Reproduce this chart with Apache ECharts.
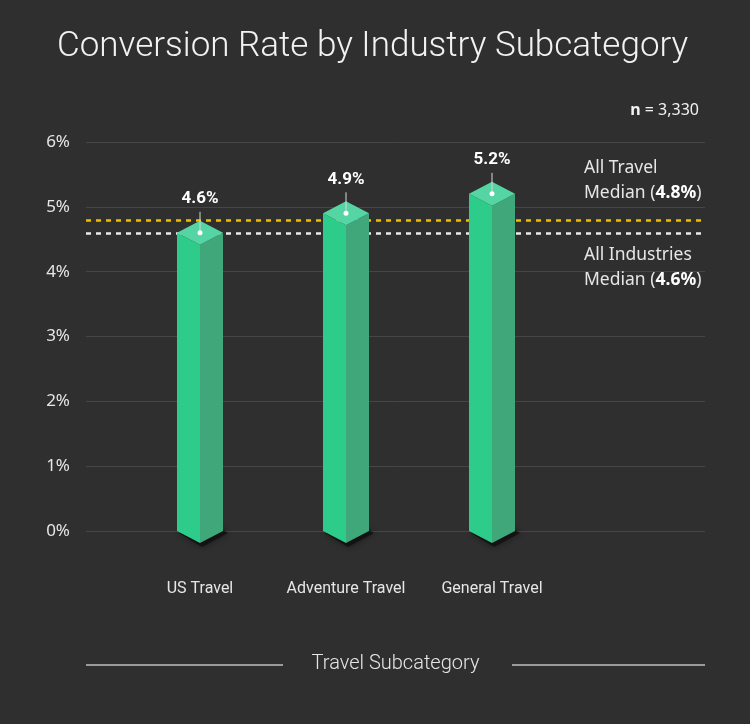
<!DOCTYPE html>
<html>
<head>
<meta charset="utf-8">
<script src="https://cdn.jsdelivr.net/npm/echarts@6/dist/echarts.min.js"></script>
<style>
html,body{margin:0;padding:0;background:#2f2f2f;}
#c{width:750px;height:724px;}
</style>
</head>
<body>
<div id="c"></div>
<script>
const categories = ['US Travel', 'Adventure Travel', 'General Travel'];
const conversionRates = [4.6, 4.9, 5.2];
const yTicks = [0, 1, 2, 3, 4, 5, 6];
const travelMedian = 4.8;
const industriesMedian = 4.6;
const sampleSize = '3,330';

const chart = echarts.init(document.getElementById('c'), null, {renderer: 'canvas'});
const GRID_TOP = 142, GRID_BOTTOM = 193;
const TXT = '#e6e6e6';

function renderBar(params, api) {
  const x = api.value(0), v = api.value(1);
  const top = api.coord([x, v]);
  const base = api.coord([x, 0]);
  const hw = 23, hh = 12;
  const cx = top[0], ty = top[1], by = base[1];
  return {
    type: 'group',
    children: [
      {type: 'polygon', shape: {points: [[cx - hw + 2, by + 2], [cx + 2, by + hh + 4], [cx + hw + 5, by + 2], [cx + 2, by - hh]]},
        style: {fill: 'rgba(15,15,15,0.75)', shadowBlur: 6, shadowColor: 'rgba(0,0,0,0.6)'}},
      {type: 'polygon', shape: {points: [[cx - hw, ty], [cx, ty + hh], [cx, by + hh], [cx - hw, by]]}, style: {fill: '#2ecc8a'}},
      {type: 'polygon', shape: {points: [[cx, ty + hh], [cx + hw, ty], [cx + hw, by], [cx, by + hh]]}, style: {fill: '#40a77b'}},
      {type: 'polygon', shape: {points: [[cx - hw, ty], [cx, ty - hh], [cx + hw, ty], [cx, ty + hh]]}, style: {fill: '#55d4a4'}},
      {type: 'line', shape: {x1: cx, y1: ty - 21, x2: cx, y2: ty}, style: {stroke: '#d8d8d8', lineWidth: 1}},
      {type: 'circle', shape: {cx: cx, cy: ty, r: 2.5}, style: {fill: '#ffffff'}},
      {type: 'text', style: {x: cx, y: ty - 34, text: v.toFixed(1) + '%', align: 'center', verticalAlign: 'middle',
        fill: '#ffffff', font: 'bold 17px Roboto'}}
    ]
  };
}

chart.setOption({
  backgroundColor: '#2f2f2f',
  animation: false,
  title: [
    {text: 'Conversion Rate by Industry Subcategory', left: 52, top: 25,
      textStyle: {color: '#f2f2f2', fontFamily: 'Roboto', fontWeight: 300, fontSize: 35}},
    {text: '{b|n} = ' + sampleSize, right: 46, top: 97,
      textStyle: {rich: {b: {fontWeight: 'bold', color: '#f2f2f2', fontFamily: 'Noto Sans', fontSize: 16}},
        color: '#f2f2f2', fontFamily: 'Noto Sans', fontSize: 16, fontWeight: 'normal'}}
  ],
  grid: [
    {left: 86, right: 45, top: GRID_TOP, bottom: GRID_BOTTOM},
    {left: 127, width: 438, top: GRID_TOP, bottom: GRID_BOTTOM}
  ],
  xAxis: [
    {type: 'value', gridIndex: 0, min: 0, max: 1, axisLine: {show: false}, axisTick: {show: false},
      axisLabel: {show: false}, splitLine: {show: false},
      name: 'Travel Subcategory', nameLocation: 'middle', nameGap: 133,
      nameTextStyle: {color: TXT, fontFamily: 'Roboto', fontWeight: 300, fontSize: 20, verticalAlign: 'middle'}},
    {type: 'category', gridIndex: 1, data: categories, boundaryGap: true,
      axisLine: {show: false}, axisTick: {show: false},
      axisLabel: {color: TXT, fontFamily: 'Roboto', fontSize: 16, margin: 50, interval: 0, hideOverlap: false}}
  ],
  yAxis: [
    {type: 'value', gridIndex: 0, min: yTicks[0], max: yTicks[yTicks.length - 1], interval: 1,
      axisLine: {show: false}, axisTick: {show: false},
      axisLabel: {color: TXT, fontFamily: 'Noto Sans', fontSize: 17, margin: 16, formatter: '{value}%'},
      splitLine: {lineStyle: {color: '#464646', width: 1}}},
    {type: 'value', gridIndex: 1, min: yTicks[0], max: yTicks[yTicks.length - 1], interval: 1, show: false}
  ],
  series: [
    {type: 'line', xAxisIndex: 0, yAxisIndex: 0, data: [], z: 1,
      markLine: {silent: true, symbol: 'none', label: {show: false},
        data: [
          {yAxis: travelMedian, lineStyle: {color: '#f0c000', type: [5, 5], width: 2.5}},
          {yAxis: industriesMedian, lineStyle: {color: '#eaeaea', type: [5, 5], width: 2.5}}
        ]}},
    {type: 'custom', xAxisIndex: 1, yAxisIndex: 1, z: 5, clip: false,
      renderItem: renderBar,
      data: conversionRates.map((v, i) => [i, v])}
  ]
});

const yTravel = chart.convertToPixel({yAxisIndex: 0}, travelMedian);
const yInd = chart.convertToPixel({yAxisIndex: 0}, industriesMedian);
const rich = {
  n: {fill: TXT, fontFamily: 'Noto Sans', fontSize: 17.5, lineHeight: 25},
  b: {fill: '#ffffff', fontFamily: 'Noto Sans', fontSize: 17.5, fontWeight: 'bold', lineHeight: 25}
};
chart.setOption({
  graphic: [
    {type: 'line', shape: {x1: 86, y1: 665, x2: 283, y2: 665}, style: {stroke: '#9a9a9a', lineWidth: 2}},
    {type: 'line', shape: {x1: 512, y1: 665, x2: 705, y2: 665}, style: {stroke: '#9a9a9a', lineWidth: 2}},
    {type: 'text', x: 584, y: yTravel - 64, style: {text: '{n|All Travel}\n{n|Median (}{b|' + travelMedian.toFixed(1) + '%}{n|)}', rich: rich, fill: TXT, align: 'left', verticalAlign: 'top'}},
    {type: 'text', x: 584, y: yInd + 10, style: {text: '{n|All Industries}\n{n|Median (}{b|' + industriesMedian.toFixed(1) + '%}{n|)}', rich: rich, fill: TXT, align: 'left', verticalAlign: 'top'}}
  ]
});
</script>
</body>
</html>
